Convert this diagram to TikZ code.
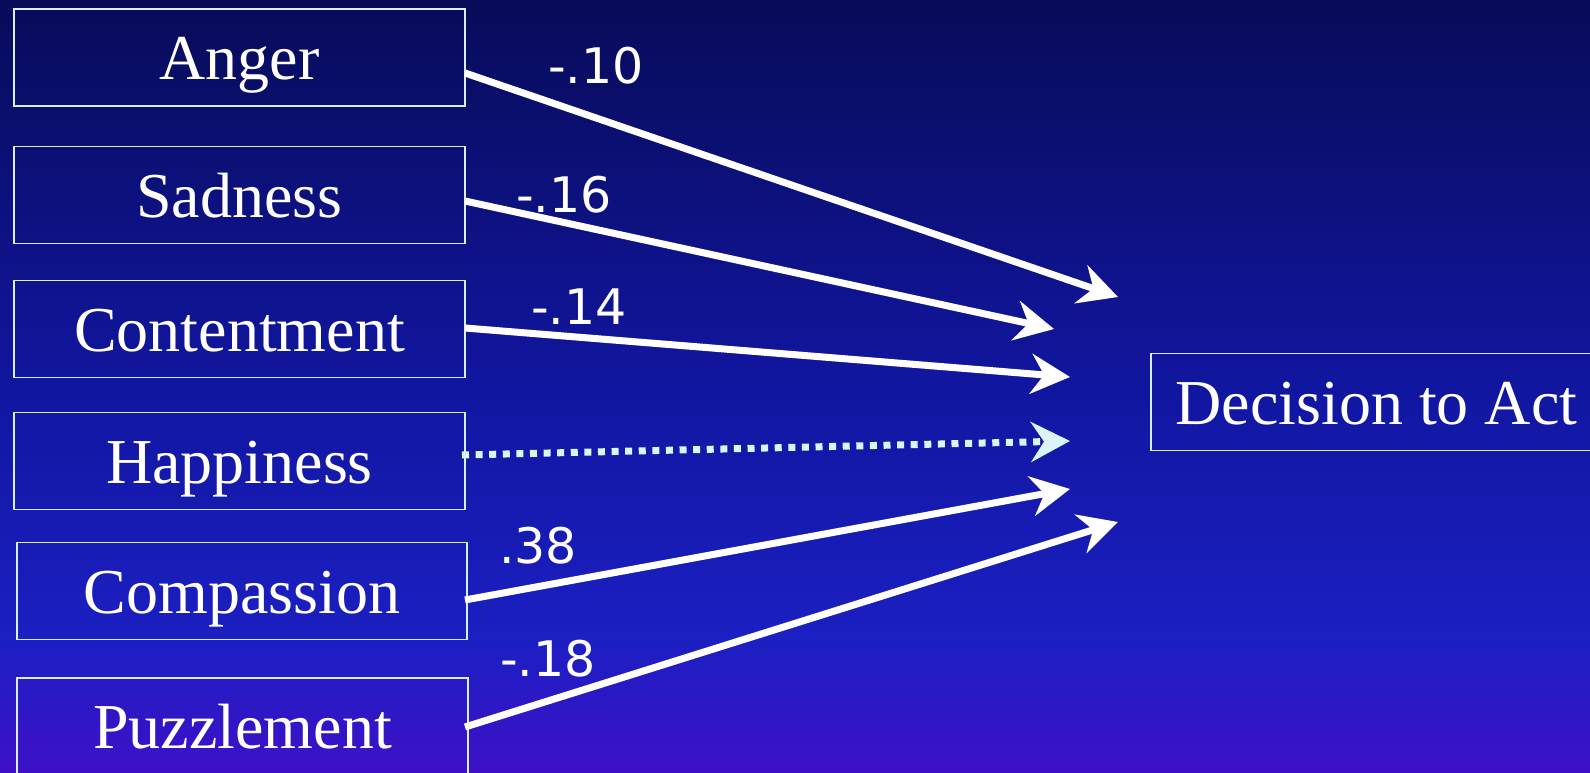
\documentclass[tikz,border=0pt]{standalone}
\usepackage{fontspec}
\setmainfont{Liberation Serif}
\newfontfamily\labfont{DejaVu Sans}
\usetikzlibrary{arrows.meta}
\definecolor{bgA}{HTML}{080B58}
\definecolor{bgB}{HTML}{1116A0}
\definecolor{bgC}{HTML}{1C1FC2}
\definecolor{bgD}{HTML}{3E10C8}
\definecolor{boxline}{HTML}{D8EEF8}
\definecolor{dotcol}{HTML}{DCF4F6}
\tikzset{
 emo/.style={draw=boxline, line width=1.8pt, text=white, minimum height=97pt, inner sep=0pt,
   text height=44pt, text depth=0pt, font=\fontsize{64}{70}\selectfont},
 coef/.style={text=white, inner sep=0pt, font=\labfont\fontsize{49}{56}\selectfont},
 link/.style={draw=white, line width=7pt, -{Stealth[length=39pt,width=40pt,inset=13pt]}},
 weak/.style={draw=dotcol, line width=7pt, dash pattern=on 7pt off 6.6pt,
   -{Stealth[length=39pt,width=40pt,inset=13pt]}}
}
\begin{document}
\begin{tikzpicture}[x=1pt,y=-1pt]
\useasboundingbox (0,0) rectangle (1590,773);
\shade[top color=bgA,bottom color=bgB] (0,-1) rectangle (1590,387);
\shade[top color=bgB,bottom color=bgC] (0,386) rectangle (1590,641);
\shade[top color=bgC,bottom color=bgD] (0,640) rectangle (1590,774);

\node[emo, minimum width=451pt] (anger) at (239.5,57.5) {Anger};
\node[emo, minimum width=451pt] (sad) at (239.5,195) {Sadness};
\node[emo, minimum width=451pt] (cont) at (239.5,329) {Contentment};
\node[emo, minimum width=451pt] (happy) at (239.5,461) {Happiness};
\node[emo, minimum width=450pt] (comp) at (242,591) {Compassion};
\node[emo, minimum width=451pt] (puzz) at (242.5,726.5) {Puzzlement};
\node[emo, minimum width=451pt] (dec) at (1376.5,402) {Decision to Act};

\coordinate (s1) at (465,73);   \coordinate (e1) at (1118,297);
\coordinate (s2) at (465,201);  \coordinate (e2) at (1054,329);
\coordinate (s3) at (465,328);  \coordinate (e3) at (1070,377);
\coordinate (s4) at (462,455);  \coordinate (e4) at (1070,441);
\coordinate (s5) at (465,600);  \coordinate (e5) at (1070,489);
\coordinate (s6) at (465,727);  \coordinate (e6) at (1118,522);

\draw[link] (s1) -- (e1);
\draw[link] (s2) -- (e2);
\draw[link] (s3) -- (e3);
\draw[weak] (s4) -- (e4);
\draw[link] (s5) -- (e5);
\draw[link] (s6) -- (e6);

\node[coef] (l1) at (596,66) {-.10};
\node[coef] (l2) at (564,195) {-.16};
\node[coef] (l3) at (579,307) {-.14};
\node[coef] (l5) at (538,546) {.38};
\node[coef] (l6) at (548,659) {-.18};
\end{tikzpicture}
\end{document}
